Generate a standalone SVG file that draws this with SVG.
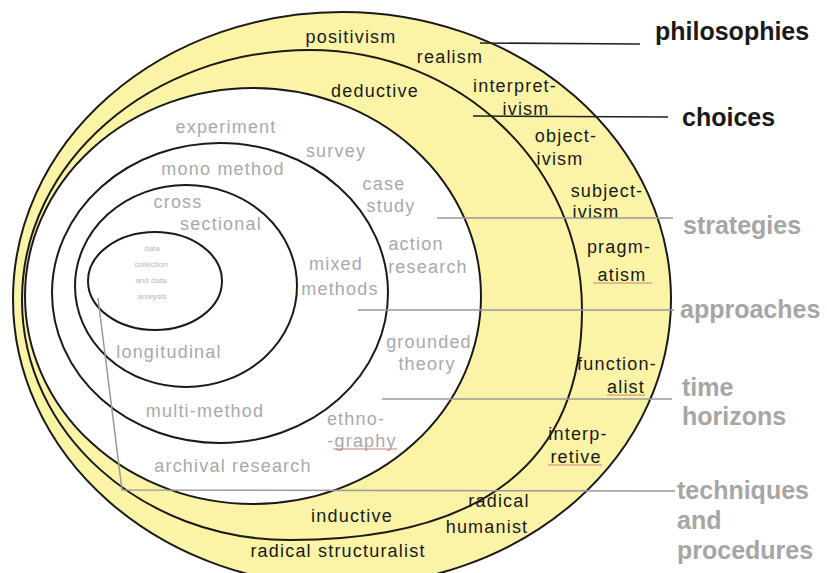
<svg xmlns="http://www.w3.org/2000/svg" width="827" height="573" viewBox="0 0 827 573">
<style>
.band{fill:#fbf4a7;stroke:#1a1a1a;stroke-width:2}
.inner{fill:#ffffff;stroke:#1a1a1a;stroke-width:2}
.ring{fill:none;stroke:#1a1a1a;stroke-width:2}
.dk{stroke:#222;stroke-width:1.6;fill:none}
.gy{stroke:#9a9a9a;stroke-width:1.5;fill:none}
.sq{stroke:#d08080;stroke-width:1.2;fill:none}
text{font-family:"Liberation Sans",Arial,sans-serif;font-size:18px;letter-spacing:1.2px;text-anchor:middle}
.d{fill:#1a1a1a}
.g{fill:#a9a9a9}
.t{fill:#b8b8b8;font-size:8px;letter-spacing:0}
.sd{font-weight:bold;font-size:25px;letter-spacing:0;text-anchor:start;fill:#1a1a1a}
.sg{font-weight:bold;font-size:25px;letter-spacing:0;text-anchor:start;fill:#a6a6a6}
</style>
<rect width="827" height="573" fill="#ffffff"/>
<g id="shapes">
<ellipse id="philosophies-ring" class="band" cx="342" cy="299" rx="329" ry="287"/>
<path id="approaches-ring" class="band" d="M22,300 C22,162 151,50 310,50 C460,50 582,166 582,310 C582,462 482,540 290,540 C142,540 22,433 22,300 Z"/>
<ellipse id="strategies-ring" class="inner" cx="253" cy="296" rx="228" ry="208"/>
<ellipse id="choices-ring" class="ring" cx="220" cy="293" rx="168" ry="150"/>
<ellipse id="time-horizons-ring" class="ring" cx="186" cy="286" rx="111" ry="101"/>
<ellipse id="techniques-ring" class="ring" cx="155" cy="281" rx="67" ry="49"/>
</g>
<g id="philosophies">
<text class="d" x="351" y="43">positivism</text>
<text class="d" x="450" y="63">realism</text>
<text class="d" x="515" y="92">interpret-</text>
<text class="d" x="526" y="115">ivism</text>
<text class="d" x="566" y="142">object-</text>
<text class="d" x="560" y="165">ivism</text>
<text class="d" x="607" y="197">subject-</text>
<text class="d" x="596" y="218">ivism</text>
<text class="d" x="619" y="253">pragm-</text>
<text class="d" x="622" y="281">atism</text>
<text class="d" x="617" y="370">function-</text>
<text class="d" x="626" y="393">alist</text>
<text class="d" x="578" y="440">interp-</text>
<text class="d" x="576" y="463">retive</text>
<text class="d" x="499" y="507">radical</text>
<text class="d" x="487" y="533">humanist</text>
<text class="d" x="338" y="557">radical structuralist</text>
</g>
<g id="approaches">
<text class="d" x="375" y="97">deductive</text>
<text class="d" x="352" y="522">inductive</text>
</g>
<g id="strategies">
<text class="g" x="226" y="133">experiment</text>
<text class="g" x="336" y="157">survey</text>
<text class="g" x="384" y="190">case</text>
<text class="g" x="391" y="212">study</text>
<text class="g" x="416" y="250">action</text>
<text class="g" x="428" y="273">research</text>
<text class="g" x="429" y="348">grounded</text>
<text class="g" x="427" y="370">theory</text>
<text class="g" x="356" y="425">ethno-</text>
<text class="g" x="362" y="447">-graphy</text>
<text class="g" x="233" y="472">archival research</text>
</g>
<g id="choices">
<text class="g" x="223" y="175">mono method</text>
<text class="g" x="336" y="270">mixed</text>
<text class="g" x="340" y="295">methods</text>
<text class="g" x="205" y="417">multi-method</text>
</g>
<g id="time-horizons">
<text class="g" x="178" y="208">cross</text>
<text class="g" x="221" y="230">sectional</text>
<text class="g" x="169" y="358">longitudinal</text>
</g>
<g id="techniques">
<text class="t" x="152" y="251">data</text>
<text class="t" x="151" y="267">collection</text>
<text class="t" x="151" y="283">and data</text>
<text class="t" x="152" y="299">analysis</text>
</g>
<g id="connectors">
<line class="dk" x1="480" y1="43" x2="640" y2="44"/>
<line class="dk" x1="473" y1="116" x2="668" y2="117"/>
<line class="gy" x1="437" y1="218" x2="673" y2="218"/>
<line class="gy" x1="358" y1="310" x2="674" y2="310"/>
<line class="gy" x1="382" y1="399" x2="672" y2="399"/>
<polyline class="gy" points="98,298 122,490 675,491"/>
<path class="sq" d="M333,449 L397,449"/>
<path class="sq" d="M607,395 L645,395"/>
<path class="sq" d="M548,465 L602,465"/>
<path class="sq" d="M593,283 L652,283"/>
</g>
<g id="labels">
<text class="sd" x="655" y="40">philosophies</text>
<text class="sd" x="682" y="126">choices</text>
<text class="sg" x="683" y="234">strategies</text>
<text class="sg" x="680" y="318">approaches</text>
<text class="sg" x="682" y="396">time</text>
<text class="sg" x="682" y="425">horizons</text>
<text class="sg" x="677" y="499">techniques</text>
<text class="sg" x="677" y="529">and</text>
<text class="sg" x="677" y="559">procedures</text>
</g>
</svg>
